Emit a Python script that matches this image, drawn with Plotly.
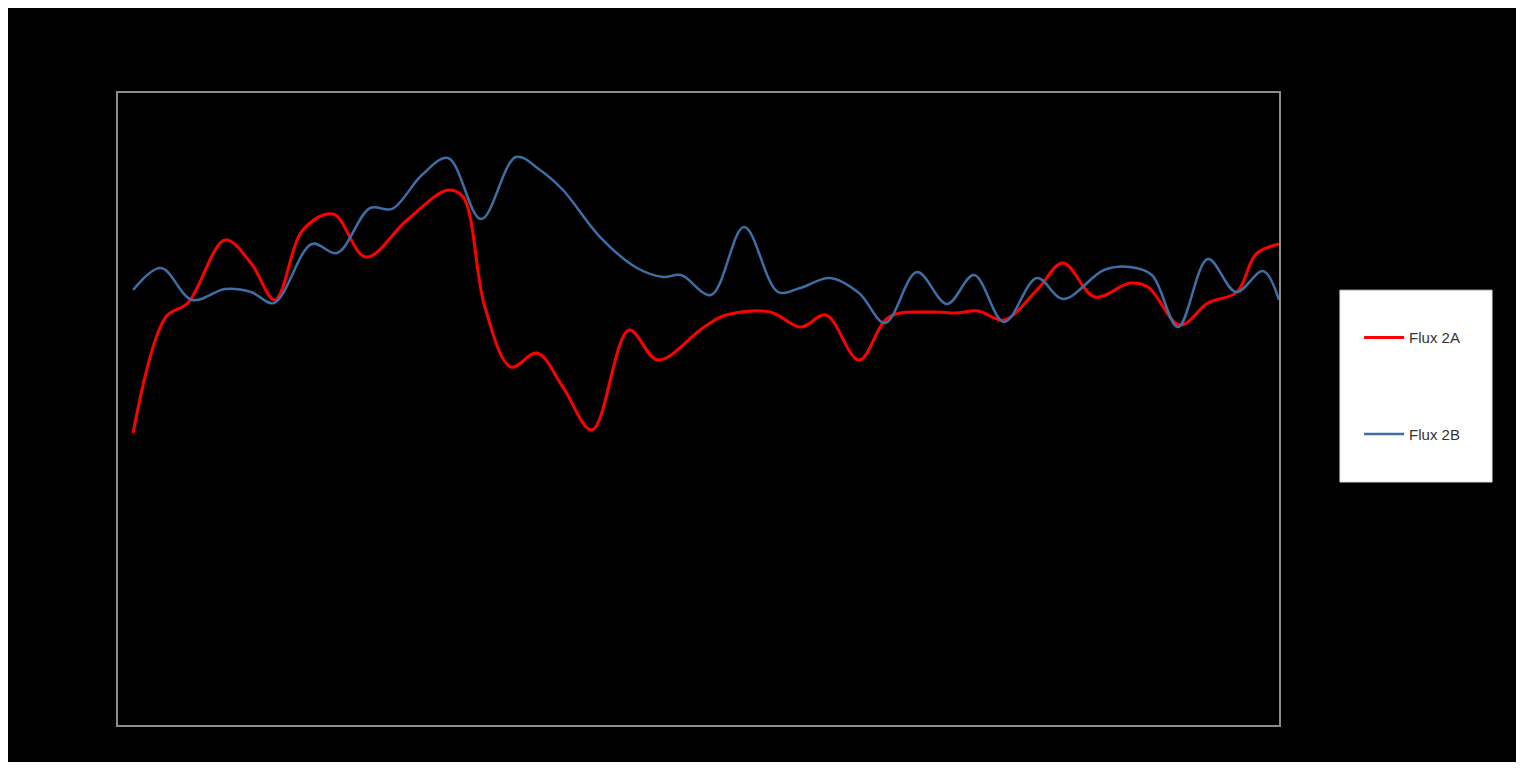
import plotly.graph_objects as go

# Data (x in arbitrary time units, y in arbitrary flux units)
flux_2a_x = [0.52, 1.65, 2.41, 3.69, 4.58, 5.41, 6.37, 7.41, 8.54, 9.96, 11.37, 11.89,
             12.64, 13.54, 14.44, 15.33, 16.33, 17.61, 18.60, 20.19, 20.95, 22.46, 23.53,
             24.39, 25.53, 26.56, 28.08, 28.87, 29.63, 30.53, 31.66, 32.56, 33.66, 34.87,
             35.49, 36.59, 37.55, 38.55, 39.21, 40.0]
flux_2a_y = [36.96, 51.65, 53.42, 61.39, 58.48, 53.80, 62.66, 64.68, 59.24, 63.92, 67.72, 66.84,
             52.91, 45.32, 47.09, 42.78, 37.34, 50.00, 46.20, 50.38, 51.90, 52.28, 50.38,
             51.90, 46.20, 51.65, 52.28, 52.15, 52.41, 51.27, 55.06, 58.48, 54.18, 55.95,
             55.44, 50.63, 53.42, 54.81, 59.60, 60.89]

flux_2b_x = [0.52, 1.48, 2.55, 3.69, 4.58, 5.37, 6.68, 7.55, 8.68, 9.44, 10.47, 11.37,
             12.51, 13.71, 14.54, 15.33, 16.61, 17.88, 18.78, 19.40, 20.43, 21.57, 22.74,
             23.50, 24.53, 25.53, 26.43, 27.53, 28.56, 29.49, 30.53, 31.66, 32.56, 33.97,
             34.87, 35.62, 36.52, 37.55, 38.52, 39.45, 40.0]
flux_2b_y = [55.06, 57.85, 53.80, 55.19, 54.81, 53.42, 60.89, 59.75, 65.44, 65.32, 69.62, 71.77,
             64.05, 71.90, 70.25, 67.72, 61.77, 57.85, 56.71, 56.96, 54.43, 63.04, 54.81,
             55.32, 56.58, 54.68, 50.89, 57.34, 53.29, 56.96, 51.01, 56.58, 53.92, 57.59,
             57.97, 56.96, 50.38, 58.99, 54.81, 57.47, 53.80]

series_names = ["Flux 2A", "Flux 2B"]

fig = go.Figure()
fig.add_trace(go.Scatter(
    x=flux_2a_x, y=flux_2a_y, mode="lines", name=series_names[0],
    line=dict(color="#ff0000", width=3, shape="spline", smoothing=1.0),
    legendgroup="a",
))
fig.add_trace(go.Scatter(
    x=flux_2b_x, y=flux_2b_y, mode="lines", name=series_names[1],
    line=dict(color="#3d6ea6", width=2.5, shape="spline", smoothing=1.0),
    legendgroup="b",
))

axis_common = dict(showticklabels=False, showgrid=False, zeroline=False,
                   showline=True, mirror=True, linecolor="#8c8c8c", linewidth=2,
                   ticks="")

fig.update_layout(
    width=1508, height=754,
    paper_bgcolor="black", plot_bgcolor="black",
    margin=dict(l=110, r=237, t=85, b=37),
    xaxis=dict(range=[0, 40], **axis_common),
    yaxis=dict(range=[0, 80], **axis_common),
    font=dict(family="Arial, Liberation Sans, sans-serif", size=15, color="#333333"),
    showlegend=True,
    legend=dict(x=1.069, y=0.639, xanchor="left", yanchor="top",
                bgcolor="rgba(0,0,0,0)", borderwidth=0, itemwidth=40,
                tracegroupgap=74, traceorder="grouped",
                font=dict(size=15, color="#333333")),
    shapes=[dict(type="rect", xref="paper", yref="paper",
                 x0=1.0525, x1=1.1835, y0=0.3845, y1=0.688,
                 fillcolor="white", line=dict(color="#dddddd", width=1),
                 layer="below")],
)

fig.write_html("out.html")
